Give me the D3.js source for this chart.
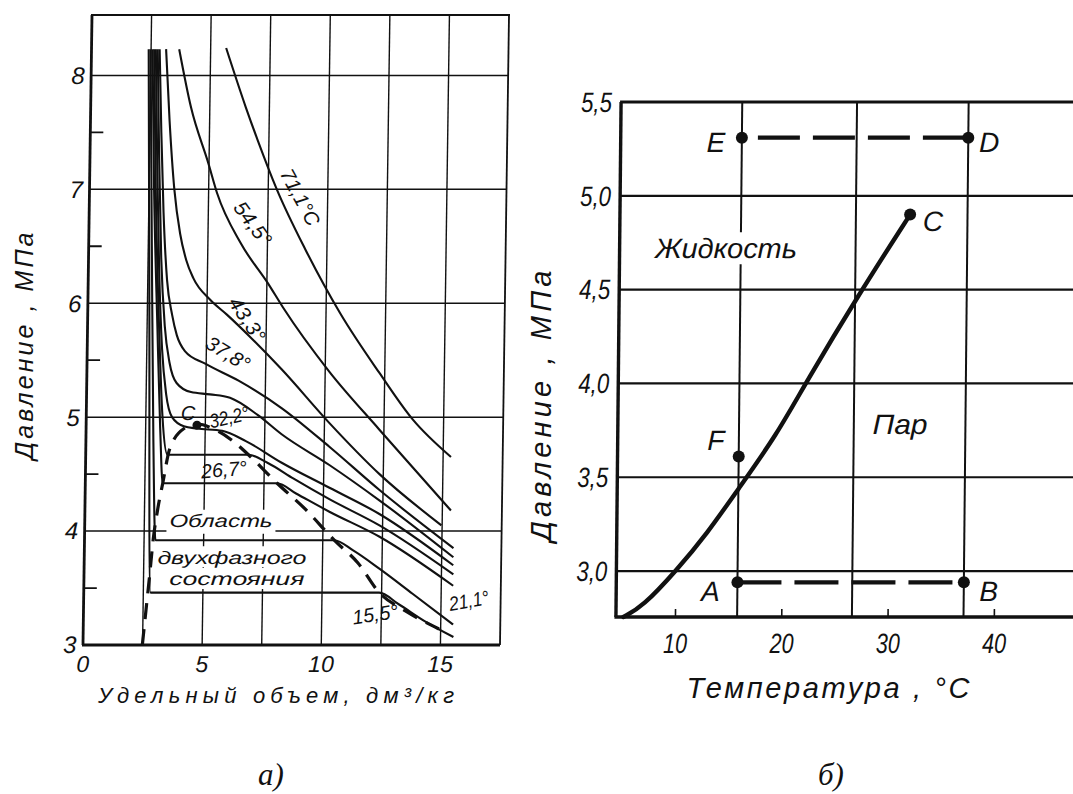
<!DOCTYPE html>
<html><head><meta charset="utf-8">
<script src="https://cdn.jsdelivr.net/npm/d3@7"></script>
<style>
html,body{margin:0;padding:0;background:#fff;}
svg{display:block;}
text{font-family:"Liberation Sans Narrow","Liberation Sans",Arial,sans-serif;font-style:italic;fill:#111;}
</style></head><body>
<svg id="c" width="1073" height="794"></svg>
<script>
// ================= DATA: chart а) isotherms, p (MPa) vs specific volume (dm3/kg) =================
const volTicks = [0, 5, 10, 15];
const volGrid = [2.5, 5, 7.5, 10, 12.5, 15];
const presTicksA = [3, 4, 5, 6, 7, 8];
const presGridA = [4, 5, 6, 7, 8];
const presMinorA = [3.5, 4.5, 5.5, 6.5, 7.5];

const iso711V = [5.65, 6.51, 7.03, 7.86, 9.1, 10.6, 12.27, 13.7, 15.33];
const iso711P = [8.24, 7.72, 7.43, 7.0, 6.47, 5.91, 5.39, 4.98, 4.65];
const iso545V = [3.68, 4.21, 4.97, 5.35, 6.4, 7.56, 8.2, 10.17, 12.31, 15.36];
const iso545P = [8.23, 7.72, 7.23, 6.97, 6.52, 6.17, 5.96, 5.4, 4.89, 4.18];
const iso433V = [3.13, 3.32, 3.56, 3.83, 4.1, 4.41, 5.13, 5.84, 6.85, 8.17, 10.2, 12.34, 14.97];
const iso433P = [8.23, 7.6, 7.0, 6.61, 6.38, 6.22, 6.03, 5.9, 5.7, 5.42, 4.95, 4.5, 4.05];
const iso378V = [2.86, 2.98, 3.12, 3.31, 3.54, 3.75, 4.1, 4.96, 6.37, 8.19, 10.22, 12.35, 15.49];
const iso378P = [8.23, 7.5, 6.8, 6.2, 5.9, 5.72, 5.58, 5.47, 5.32, 5.08, 4.74, 4.36, 3.85];
const iso350V = [2.78, 2.9, 3.05, 3.24, 3.46, 3.77, 4.38, 5.18, 6.02, 7.19, 8.21, 10.23, 12.35, 15.49];
const iso350P = [8.23, 7.3, 6.4, 5.8, 5.48, 5.3, 5.22, 5.2, 5.17, 5.02, 4.85, 4.58, 4.27, 3.77];
const iso322V = [2.7, 2.83, 2.97, 3.14, 3.34, 3.6, 4.1, 4.66, 5.71, 6.71, 8.23, 10.25, 12.36, 15.49];
const iso322P = [8.23, 7.2, 6.3, 5.6, 5.2, 5.0, 4.92, 4.9, 4.88, 4.79, 4.6, 4.38, 4.15, 3.70];
const iso294V = [2.63, 2.78, 3.0, 3.2, 3.43, 6.83, 7.63, 8.74, 10.25, 12.37, 15.5];
const iso294P = [8.23, 7.0, 5.8, 5.0, 4.67, 4.67, 4.6, 4.46, 4.28, 4.05, 3.62];
const iso267V = [2.56, 2.71, 2.93, 3.11, 3.25, 8.05, 8.85, 10.26, 12.38, 15.5];
const iso267P = [8.23, 7.0, 5.8, 4.9, 4.42, 4.42, 4.33, 4.17, 3.95, 3.52];
const iso211V = [2.48, 2.65, 2.83, 2.98, 10.48, 11.28, 12.39, 13.8, 15.52];
const iso211P = [8.23, 6.5, 4.8, 3.92, 3.92, 3.83, 3.67, 3.45, 3.18];
const iso155V = [2.4, 2.58, 2.8, 12.4, 13.21, 14.32, 15.54];
const iso155P = [8.23, 6.0, 3.46, 3.46, 3.36, 3.21, 3.07];

const domeV = [2.49, 2.62, 2.75, 2.88, 3.06, 3.25, 3.52, 4.11, 4.66, 5.41, 6.11, 6.83, 8.05, 9.26, 10.48, 11.49, 12.4, 13.51, 14.93];
const domeP = [3.0, 3.3, 3.6, 3.92, 4.2, 4.42, 4.72, 4.9, 4.94, 4.89, 4.8, 4.67, 4.42, 4.19, 3.92, 3.72, 3.46, 3.3, 3.14];
const critV = 4.65, critP = 4.93;

const isoLabels = ["71,1°C", "54,5°", "43,3°", "37,8°", "32,2°", "26,7°", "21,1°", "15,5°"];
const isoLabelV = [8.85, 6.88, 6.7, 5.91, 5.99, 5.81, 16.17, 12.24];
const isoLabelP = [6.93, 6.70, 5.86, 5.56, 5.0, 4.54, 3.39, 3.27];
const regionLines = ["Область", "двухфазного", "состояния"];
const regionV = [5.72, 6.2, 6.42];
const regionP = [4.09, 3.77, 3.58];

// ================= DATA: chart б) p (MPa) vs temperature (°C) =================
const tempTicks = [10, 20, 30, 40];
const tempGrid = [15.8, 26.6, 37.1];
const presTicksB = [3.0, 3.5, 4.0, 4.5, 5.0, 5.5];
const presTickLabelsB = ["3,0", "3,5", "4,0", "4,5", "5,0", "5,5"];
const vapT = [5.1, 6.9, 10.0, 12.9, 15.7, 19.4, 22.0, 27.0, 31.7];
const vapP = [2.755, 2.81, 3.0, 3.2, 3.43, 3.73, 4.0, 4.48, 4.9];
const pointNames = ["E", "D", "C", "F", "A", "B"];
const pointT = [15.8, 37.1, 31.7, 15.8, 15.8, 37.1];
const pointP = [5.31, 5.31, 4.9, 3.61, 2.94, 2.94];
const regionBText = ["Жидкость", "Пар"];
const regionBT = [14.41, 30.95];
const regionBP = [4.72, 3.78];

// ================= LAYOUT =================
const isoLabelAngle = [61, 53, 56, 31, -13, -5, -10, -8];
const isoLabelLen = [62, 50, 50, 48, 40, 46, 40, 46];
const regionLen = [103, 149, 135];
const pointOffset = [[-26, 5], [21, 5], [23, 7], [-23, -16], [-27, 9], [25, 9]];
const regionBLen = [142, 55];

const svg = d3.select("#c");
const INK = "#111";
function skew(k, yc) { return `translate(${k * yc},0) skewX(${-Math.atan(k) * 180 / Math.PI})`; }
const zip = (a, b) => a.map((v, i) => [v, b[i]]);

// ---------------- Chart а) ----------------
const gA = svg.append("g").attr("transform", skew(0.0143, 330));
const xA = d3.scaleLinear().domain([0, 17.5]).range([87.5, 504.5]);
const yA = d3.scaleLinear().domain([3, 8.53]).range([645, 15]);

gA.selectAll("line.vg").data(volGrid).join("line").attr("class", "vg")
  .attr("x1", d => xA(d)).attr("x2", d => xA(d)).attr("y1", yA(3)).attr("y2", yA(8.53))
  .attr("stroke", INK).attr("stroke-width", 1.4);
gA.selectAll("line.hg").data(presGridA).join("line").attr("class", "hg")
  .attr("x1", xA(0)).attr("x2", xA(17.5)).attr("y1", d => yA(d)).attr("y2", d => yA(d))
  .attr("stroke", INK).attr("stroke-width", 1.5);
gA.selectAll("line.mt").data(presMinorA).join("line").attr("class", "mt")
  .attr("x1", xA(0)).attr("x2", xA(0) + 13).attr("y1", d => yA(d)).attr("y2", d => yA(d))
  .attr("stroke", INK).attr("stroke-width", 1.8);
// frame
gA.append("line").attr("x1", xA(0)).attr("x2", xA(0)).attr("y1", yA(3)).attr("y2", yA(8.53)).attr("stroke", INK).attr("stroke-width", 2.8);
gA.append("line").attr("x1", xA(0) - 1).attr("x2", xA(17.5)).attr("y1", yA(3)).attr("y2", yA(3)).attr("stroke", INK).attr("stroke-width", 2.8);
gA.append("line").attr("x1", xA(0) - 1).attr("x2", xA(17.5) + 1).attr("y1", yA(8.53)).attr("y2", yA(8.53)).attr("stroke", INK).attr("stroke-width", 2);
gA.append("line").attr("x1", xA(17.5)).attr("x2", xA(17.5)).attr("y1", yA(3)).attr("y2", yA(8.53)).attr("stroke", INK).attr("stroke-width", 1.8);

// white backgrounds for region text
gA.selectAll("rect.rb").data(regionLines).join("rect").attr("class", "rb")
  .attr("x", (d, i) => xA(regionV[i]) - regionLen[i] / 2 - 3)
  .attr("y", (d, i) => yA(regionP[i]) - 11)
  .attr("width", (d, i) => regionLen[i] + 6).attr("height", (d, i) => i === 0 ? 24 : 21)
  .attr("fill", "#fff");

const lineA = d3.line().x(d => xA(d[0])).y(d => yA(d[1])).curve(d3.curveMonotoneX);
const isotherms = [
  [iso711V, iso711P], [iso545V, iso545P], [iso433V, iso433P], [iso378V, iso378P],
  [iso350V, iso350P], [iso322V, iso322P], [iso294V, iso294P], [iso267V, iso267P],
  [iso211V, iso211P], [iso155V, iso155P]
];
gA.selectAll("path.iso").data(isotherms).join("path").attr("class", "iso")
  .attr("d", d => lineA(zip(d[0], d[1])))
  .attr("fill", "none").attr("stroke", INK).attr("stroke-width", 2.1).attr("stroke-linejoin", "round");
gA.append("path").attr("d", lineA(zip(domeV, domeP)))
  .attr("fill", "none").attr("stroke", INK).attr("stroke-width", 3.2)
  .attr("stroke-dasharray", "16,10");
gA.append("circle").attr("cx", xA(critV)).attr("cy", yA(critP)).attr("r", 4.5).attr("fill", INK);
gA.append("text").attr("x", xA(critV) - 9).attr("y", yA(critP) - 12).attr("dy", "0.35em")
  .attr("text-anchor", "middle").attr("font-size", 20).text("C");

gA.selectAll("text.il").data(isoLabels).join("text").attr("class", "il")
  .attr("transform", (d, i) => `translate(${xA(isoLabelV[i])},${yA(isoLabelP[i])}) rotate(${isoLabelAngle[i]})`)
  .attr("dy", "0.35em").attr("text-anchor", "middle").attr("font-size", 20)
  .attr("textLength", (d, i) => isoLabelLen[i]).attr("lengthAdjust", "spacingAndGlyphs")
  .text(d => d);
gA.selectAll("text.rl").data(regionLines).join("text").attr("class", "rl")
  .attr("x", (d, i) => xA(regionV[i])).attr("y", (d, i) => yA(regionP[i]))
  .attr("dy", "0.35em").attr("text-anchor", "middle").attr("font-size", 18)
  .attr("textLength", (d, i) => regionLen[i]).attr("lengthAdjust", "spacingAndGlyphs")
  .text(d => d);

// tick labels
gA.selectAll("text.yt").data(presTicksA).join("text").attr("class", "yt")
  .attr("x", 81).attr("y", d => yA(d)).attr("dy", "0.35em").attr("text-anchor", "end")
  .attr("font-size", 24).text(d => d);
gA.selectAll("text.xt").data(volTicks).join("text").attr("class", "xt")
  .attr("x", d => xA(d)).attr("y", 672).attr("text-anchor", "middle")
  .attr("font-size", 23).text(d => d);

svg.append("text").attr("transform", "translate(24,346) rotate(-90)").attr("dy", "0.35em")
  .attr("text-anchor", "middle").attr("font-size", 25)
  .attr("textLength", 227).attr("lengthAdjust", "spacing").text("Давление , МПа");
svg.append("text").attr("x", 276).attr("y", 703).attr("text-anchor", "middle").attr("font-size", 22)
  .attr("textLength", 356).attr("lengthAdjust", "spacing").text("Удельный  объем,  дм³/кг");

// ---------------- Chart б) ----------------
const gB = svg.append("g").attr("transform", skew(0.01, 360));
const xB = d3.scaleLinear().domain([4.4, 40]).range([618.5, 996.9]);
const yB = d3.scaleLinear().domain([2.755, 5.5]).range([617, 102]);
const TMAX = 49;

gB.selectAll("line.vg").data(tempGrid).join("line").attr("class", "vg")
  .attr("x1", d => xB(d)).attr("x2", d => xB(d)).attr("y1", yB(2.755)).attr("y2", yB(5.5))
  .attr("stroke", INK).attr("stroke-width", 2);
gB.selectAll("line.hg").data(presTicksB.slice(0, 5)).join("line").attr("class", "hg")
  .attr("x1", xB(4.4)).attr("x2", xB(TMAX)).attr("y1", d => yB(d)).attr("y2", d => yB(d))
  .attr("stroke", INK).attr("stroke-width", 2.2);
gB.append("line").attr("x1", xB(4.4) - 1).attr("x2", xB(TMAX)).attr("y1", yB(5.5)).attr("y2", yB(5.5)).attr("stroke", INK).attr("stroke-width", 3);
gB.append("line").attr("x1", xB(4.4) - 1.5).attr("x2", xB(TMAX)).attr("y1", yB(2.755)).attr("y2", yB(2.755)).attr("stroke", INK).attr("stroke-width", 3.4);
gB.append("line").attr("x1", xB(4.4)).attr("x2", xB(4.4)).attr("y1", yB(2.755)).attr("y2", yB(5.5)).attr("stroke", INK).attr("stroke-width", 3.4);
gB.selectAll("line.xtk").data(tempTicks).join("line").attr("class", "xtk")
  .attr("x1", d => xB(d)).attr("x2", d => xB(d)).attr("y1", yB(2.755)).attr("y2", yB(2.755) - 8)
  .attr("stroke", INK).attr("stroke-width", 1.6);

gB.selectAll("rect.rb").data(regionBText.slice(0, 1)).join("rect").attr("class", "rb")
  .attr("x", xB(regionBT[0]) - regionBLen[0] / 2 - 4).attr("y", yB(regionBP[0]) - 16)
  .attr("width", regionBLen[0] + 8).attr("height", 32).attr("fill", "#fff");
gB.selectAll("text.rl").data(regionBText).join("text").attr("class", "rl")
  .attr("x", (d, i) => xB(regionBT[i])).attr("y", (d, i) => yB(regionBP[i])).attr("dy", "0.35em")
  .attr("text-anchor", "middle").attr("font-size", 28)
  .attr("textLength", (d, i) => regionBLen[i]).attr("lengthAdjust", "spacingAndGlyphs").text(d => d);

// dashed process lines E–D and A–B
const lineB = d3.line().x(d => xB(d[0])).y(d => yB(d[1]));
gB.append("path").attr("d", lineB([[pointT[0], pointP[0]], [pointT[1], pointP[1]]]))
  .attr("fill", "none").attr("stroke", INK).attr("stroke-width", 4.2).attr("stroke-dasharray", "0,16,42,13,42,13,42,13,42,13");
gB.append("path").attr("d", lineB([[pointT[4], pointP[4]], [pointT[5], pointP[5]]]))
  .attr("fill", "none").attr("stroke", INK).attr("stroke-width", 4.2).attr("stroke-dasharray", "44,13");

// vapour pressure curve
const curveB = d3.line().x(d => xB(d[0])).y(d => yB(d[1])).curve(d3.curveBasis);
gB.append("path").attr("d", curveB(zip(vapT, vapP)))
  .attr("fill", "none").attr("stroke", INK).attr("stroke-width", 4.4).attr("stroke-linecap", "round");

gB.selectAll("circle.pt").data(pointNames).join("circle").attr("class", "pt")
  .attr("cx", (d, i) => xB(pointT[i])).attr("cy", (d, i) => yB(pointP[i])).attr("r", 6).attr("fill", INK);
gB.selectAll("text.pn").data(pointNames).join("text").attr("class", "pn")
  .attr("x", (d, i) => xB(pointT[i]) + pointOffset[i][0]).attr("y", (d, i) => yB(pointP[i]) + pointOffset[i][1])
  .attr("dy", "0.35em").attr("text-anchor", "middle").attr("font-size", 28).text(d => d);

gB.selectAll("text.yt").data(presTicksB).join("text").attr("class", "yt")
  .attr("x", xB(4.4) - 9).attr("y", d => yB(d)).attr("dy", "0.35em").attr("text-anchor", "end")
  .attr("font-size", 28).attr("textLength", 31).attr("lengthAdjust", "spacingAndGlyphs")
  .text((d, i) => presTickLabelsB[i]);
gB.selectAll("text.xt").data(tempTicks).join("text").attr("class", "xt")
  .attr("x", d => xB(d)).attr("y", 653).attr("text-anchor", "middle")
  .attr("font-size", 28).attr("textLength", 24).attr("lengthAdjust", "spacingAndGlyphs").text(d => d);

svg.append("text").attr("transform", "translate(541,406) rotate(-90)").attr("dy", "0.35em")
  .attr("text-anchor", "middle").attr("font-size", 29)
  .attr("textLength", 271).attr("lengthAdjust", "spacing").text("Давление , МПа");
svg.append("text").attr("x", 828).attr("y", 698).attr("text-anchor", "middle").attr("font-size", 29)
  .attr("textLength", 283).attr("lengthAdjust", "spacing").text("Температура , °С");

// captions
svg.selectAll("text.cap").data(["а)", "б)"]).join("text").attr("class", "cap")
  .attr("x", (d, i) => i === 0 ? 271 : 831).attr("y", 785).attr("text-anchor", "middle")
  .style("font-family", "'Liberation Serif','Times New Roman',serif").attr("font-size", 31).text(d => d);
</script>
</body></html>
